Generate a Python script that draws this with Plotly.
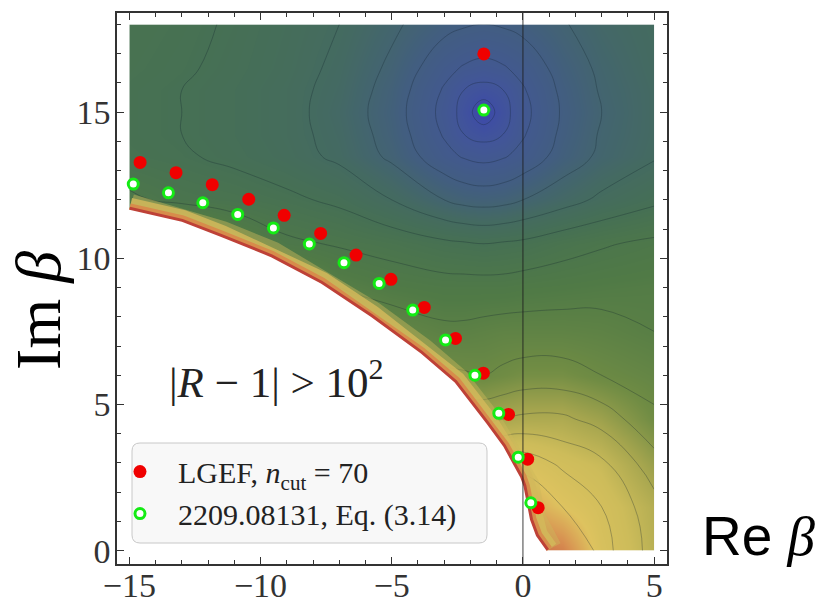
import plotly.graph_objects as go

# ---------------- data ----------------
lgef_re = [-14.59, -13.22, -11.84, -10.45, -9.10, -7.71, -6.36, -5.03, -3.76, -2.57, -1.51, -0.55, 0.18, 0.58, -1.49]
lgef_im = [13.28, 12.93, 12.52, 12.02, 11.47, 10.85, 10.11, 9.28, 8.32, 7.26, 6.07, 4.66, 3.13, 1.47, 16.99]

ref_re = [-14.85, -13.51, -12.20, -10.87, -9.51, -8.14, -6.82, -5.48, -4.20, -2.95, -1.83, -0.92, -0.18, 0.30, -1.49]
ref_im = [12.54, 12.24, 11.90, 11.50, 11.04, 10.49, 9.85, 9.14, 8.23, 7.21, 6.00, 4.70, 3.20, 1.64, 15.07]

# boundary of the excluded region |R-1| > 10^2
bnd_re = [-15.0, -13.0, -11.5, -9.6, -7.7, -5.8, -3.9, -2.6, -1.4, -0.75, -0.1, 0.02, 0.27, 0.5, 0.9]
bnd_im = [11.66, 11.25, 10.73, 10.04, 9.14, 8.0, 6.75, 5.75, 4.36, 3.56, 2.5, 2.2, 1.06, 0.5, 0.0]

# background field: estimated colour level (0 = blue, ~0.35 green, ~0.7 yellow, 1 = red)
grid_re = [-15, -13, -11, -9, -7, -5, -3, -2.25, -1.5, -0.75, 0, 1.5, 3, 5]
grid_im = [0, 1.5, 3, 4.5, 6, 7.5, 9, 10.5, 12, 13.5, 14.25, 15, 15.75, 16.5, 18]
level = [
    [0.55, 0.55, 0.55, 0.55, 0.55, 0.60, 0.65, 0.70, 0.75, 0.84, 0.90, 0.86, 0.71, 0.62],
    [0.55, 0.55, 0.55, 0.55, 0.55, 0.60, 0.65, 0.70, 0.75, 0.80, 0.80, 0.74, 0.69, 0.61],
    [0.55, 0.55, 0.55, 0.55, 0.55, 0.60, 0.65, 0.68, 0.70, 0.72, 0.72, 0.68, 0.65, 0.56],
    [0.55, 0.55, 0.55, 0.55, 0.55, 0.58, 0.58, 0.58, 0.58, 0.59, 0.60, 0.60, 0.57, 0.50],
    [0.55, 0.55, 0.55, 0.55, 0.55, 0.52, 0.50, 0.495, 0.49, 0.50, 0.51, 0.51, 0.49, 0.47],
    [0.55, 0.55, 0.55, 0.55, 0.50, 0.47, 0.45, 0.45, 0.455, 0.46, 0.46, 0.46, 0.455, 0.44],
    [0.55, 0.55, 0.55, 0.50, 0.44, 0.42, 0.41, 0.41, 0.41, 0.41, 0.415, 0.42, 0.425, 0.43],
    [0.55, 0.55, 0.45, 0.40, 0.385, 0.37, 0.35, 0.345, 0.34, 0.345, 0.35, 0.37, 0.385, 0.40],
    [0.40, 0.375, 0.365, 0.35, 0.33, 0.29, 0.24, 0.225, 0.22, 0.225, 0.24, 0.27, 0.30, 0.33],
    [0.355, 0.345, 0.33, 0.31, 0.28, 0.23, 0.155, 0.135, 0.125, 0.135, 0.155, 0.21, 0.25, 0.285],
    [0.35, 0.34, 0.325, 0.305, 0.275, 0.22, 0.135, 0.09, 0.07, 0.09, 0.135, 0.20, 0.245, 0.28],
    [0.35, 0.34, 0.325, 0.305, 0.27, 0.215, 0.125, 0.07, 0.0, 0.07, 0.125, 0.195, 0.24, 0.28],
    [0.35, 0.34, 0.325, 0.305, 0.275, 0.22, 0.135, 0.09, 0.07, 0.09, 0.135, 0.20, 0.245, 0.28],
    [0.355, 0.345, 0.33, 0.31, 0.28, 0.23, 0.155, 0.135, 0.125, 0.135, 0.155, 0.21, 0.25, 0.285],
    [0.36, 0.35, 0.335, 0.315, 0.29, 0.25, 0.205, 0.195, 0.19, 0.195, 0.205, 0.235, 0.265, 0.29],
]

x_ticks = [-15, -10, -5, 0, 5]
y_ticks = [0, 5, 10, 15]
x_range = [-15.47, 5.49]
y_range = [-0.455, 18.39]

SERIF = "Liberation Serif"

colorscale = [
    [0.00, "rgb(60,72,172)"],
    [0.10, "rgb(66,86,152)"],
    [0.20, "rgb(66,94,128)"],
    [0.28, "rgb(68,106,98)"],
    [0.34, "rgb(70,112,84)"],
    [0.42, "rgb(80,122,70)"],
    [0.50, "rgb(112,140,68)"],
    [0.58, "rgb(165,165,78)"],
    [0.66, "rgb(205,188,90)"],
    [0.74, "rgb(222,195,95)"],
    [0.84, "rgb(215,140,80)"],
    [1.00, "rgb(185,60,55)"],
]

fig = go.Figure()

fig.add_trace(go.Contour(
    x=grid_re, y=grid_im, z=level,
    zmin=0, zmax=1, colorscale=colorscale, showscale=False,
    contours=dict(coloring="heatmap", start=0.04, end=0.76, size=0.05),
    line=dict(color="rgba(20,35,45,0.30)", width=1, smoothing=1.3),
    hoverinfo="skip", showlegend=False,
))

# coloured band along the boundary (outer halves stay visible)
for w, c in [(32, "rgba(205,185,90,0.45)"), (24, "rgba(210,185,90,0.85)"),
             (13, "rgb(215,140,75)"), (6, "rgb(190,65,55)")]:
    fig.add_trace(go.Scatter(x=bnd_re, y=bnd_im, mode="lines",
                             line=dict(color=c, width=w),
                             hoverinfo="skip", showlegend=False))

# excluded (white) region
fill_re = bnd_re + [bnd_re[-1], x_range[0] - 1, x_range[0] - 1]
fill_im = bnd_im + [y_range[0] - 1, y_range[0] - 1, bnd_im[0]]
fig.add_trace(go.Scatter(x=fill_re, y=fill_im, mode="lines", fill="toself",
                         fillcolor="white", line=dict(width=0, color="white"),
                         hoverinfo="skip", showlegend=False))

# Re beta = 0 line
fig.add_trace(go.Scatter(x=[0, 0], y=y_range, mode="lines",
                         line=dict(color="rgba(30,30,30,0.85)", width=1),
                         hoverinfo="skip", showlegend=False))

fig.add_trace(go.Scatter(
    x=lgef_re, y=lgef_im, mode="markers",
    name="LGEF, <i>n</i><sub>cut</sub> = 70",
    marker=dict(size=13, color="rgb(240,0,0)", line=dict(width=0)),
))
fig.add_trace(go.Scatter(
    x=ref_re, y=ref_im, mode="markers",
    name="2209.08131, Eq. (3.14)",
    marker=dict(size=10, color="white", line=dict(width=3, color="rgb(20,235,20)")),
))

# rounded legend box
def rounded_rect(x0, y0, x1, y1, rx, ry):
    return (f"M {x0+rx},{y0} L {x1-rx},{y0} Q {x1},{y0} {x1},{y0+ry} "
            f"L {x1},{y1-ry} Q {x1},{y1} {x1-rx},{y1} L {x0+rx},{y1} "
            f"Q {x0},{y1} {x0},{y1-ry} L {x0},{y0+ry} Q {x0},{y0} {x0+rx},{y0} Z")

fig.add_shape(type="path", xref="paper", yref="paper", layer="above",
              path=rounded_rect(0.0273, 0.0381, 0.6727, 0.2196, 0.0145, 0.0145),
              fillcolor="rgba(248,248,248,0.96)", line=dict(color="rgb(200,200,200)", width=1))

axis_common = dict(
    showline=True, linecolor="#333", linewidth=1.5, mirror="allticks",
    ticks="inside", ticklen=7, tickwidth=1, tickcolor="#333",
    showgrid=False, zeroline=False, automargin=False,
    tickfont=dict(family=SERIF, size=34, color="#333"),
)
fig.update_xaxes(range=x_range, tickvals=x_ticks, ticklabelstandoff=-10, **axis_common,
                 minor=dict(dtick=1, ticks="inside", ticklen=4, tickcolor="#333", showgrid=False))
fig.update_yaxes(range=y_range, tickvals=y_ticks, ticklabelstandoff=-2, **axis_common,
                 minor=dict(dtick=1, ticks="inside", ticklen=4, tickcolor="#333", showgrid=False))

fig.add_annotation(x=-9.41, y=5.88, xref="x", yref="y", showarrow=False,
                   xanchor="center", yanchor="middle",
                   text="|<i>R</i> − 1| > 10<sup>2</sup>",
                   font=dict(family=SERIF, size=43, color="#222"))
fig.add_annotation(x=-0.142, y=0.461, xref="paper", yref="paper", showarrow=False,
                   xanchor="center", yanchor="middle",
                   text="Im <i>β</i>", textangle=-90,
                   font=dict(family=SERIF, size=64, color="black"))
fig.add_annotation(x=1.06, y=0.05, xref="paper", yref="paper", showarrow=False,
                   xanchor="left", yanchor="middle",
                   text="Re <span style='font-family:Liberation Serif'><i>β</i></span>",
                   font=dict(family="Liberation Sans", size=55, color="black"))

fig.update_layout(
    width=819, height=605,
    margin=dict(l=117, r=152, t=13, b=41),
    paper_bgcolor="white", plot_bgcolor="white",
    legend=dict(x=-0.0273, y=0.215, xanchor="left", yanchor="top",
                bgcolor="rgba(0,0,0,0)", borderwidth=0, itemwidth=66,
                font=dict(family=SERIF, size=30, color="#222"),
                tracegroupgap=0),
)

fig.write_html("out.html", config={"displayModeBar": False},
               post_script="document.body.style.margin='0px';")
